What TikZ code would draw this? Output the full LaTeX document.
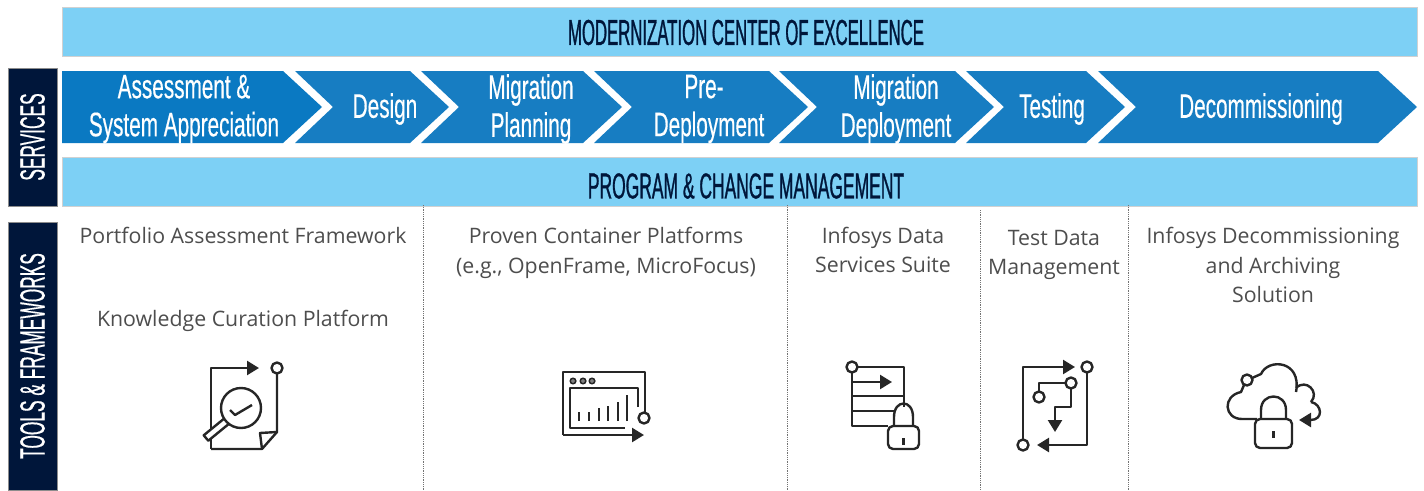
\documentclass[tikz,border=0pt]{standalone}
\usepackage{fontspec}
\usepackage{xcolor}
\usepackage{tikz}
\usetikzlibrary{arrows.meta}
\setmainfont{Open Sans}
\newfontfamily\condfont[FakeStretch=0.61,FakeBold=0.4]{Liberation Sans}
\newfontfamily\sidefont[FakeStretch=0.495,FakeBold=0.4]{Liberation Sans}
\newfontfamily\barfont[FakeStretch=0.465,FakeBold=0.8]{Liberation Sans}
\newfontfamily\changefont[FakeStretch=0.485,FakeBold=0.8]{Liberation Sans}
\definecolor{barblue}{HTML}{7DD0F5}
\definecolor{firstblue}{HTML}{0A79C2}
\definecolor{stepblue}{HTML}{177DC2}
\definecolor{navy}{HTML}{00163A}
\definecolor{bodygray}{HTML}{4D4D4D}
\tikzstyle{bar} = [fill=barblue, draw=black!18, line width=0.8pt, minimum width=1355pt, minimum height=49pt, inner sep=0pt]
\tikzstyle{bartext} = [text=navy, inner sep=0pt]
\tikzstyle{sidebox} = [fill=navy, draw=black!45, line width=0.8pt, inner sep=0pt, text=white, minimum width=49pt, font=\sidefont\fontsize{35}{40}\selectfont]
\tikzstyle{steptext} = [text=white, align=center, inner sep=0pt, font=\condfont\fontsize{34}{38}\selectfont]
\tikzstyle{bodytext} = [text=bodygray, align=center, inner sep=0pt, font=\fontsize{21.3}{29.5}\selectfont]
\tikzstyle{divider} = [densely dotted, black!55, line width=0.8pt]
\tikzstyle{icon} = [draw=black!85, line width=2.4pt, line join=round]
\tikzstyle{iconarrow} = [icon, -{Triangle[length=12pt,width=14pt]}]
\newcommand{\chevron}[3]{\fill[#3] (#1,71) -- (#2,71) -- ({#2+39},107) -- (#2,143) -- (#1,143) -- ({#1+38},107) -- cycle;}
\newcommand{\padlock}[4]{%
    \draw[icon, fill=white, rounded corners=5pt] (#1,#3) rectangle (#2,#4);
    \draw[icon] ({#1+6},#3) -- ({#1+6},{#3-9}) .. controls ({#1+6},{#3-27}) and ({#2-6},{#3-27}) .. ({#2-6},{#3-9}) -- ({#2-6},#3);
    \draw[icon] ({(#1+#2)/2},{#3+12}) -- ({(#1+#2)/2},{#3+19});
}

\begin{document}
\begin{tikzpicture}[x=1pt,y=-1pt]
\useasboundingbox (0,0) rectangle (1424,490);

\node [bar] (coe) at (739.5,31.5) {};
\node [bar] (program) at (739.5,181.5) {};
\node [bartext, font=\barfont\fontsize{36}{40}\selectfont] (coetext) at (746,32.5) {MODERNIZATION CENTER OF EXCELLENCE};
\node [bartext, font=\changefont\fontsize{36}{40}\selectfont] (programtext) at (746,186) {PROGRAM \& CHANGE MANAGEMENT};

\node [sidebox, minimum height=138pt] (services) at (32.5,137) {\rotatebox{90}{SERVICES}};
\node [sidebox, minimum height=268pt] (tools) at (32.5,356) {\rotatebox{90}{TOOLS \& FRAMEWORKS}};

% service steps
\fill[firstblue] (62,71) -- (283,71) -- (322,107) -- (283,143) -- (62,143) -- cycle;
\chevron{295}{410}{stepblue}
\chevron{421}{583}{stepblue}
\chevron{594}{769}{stepblue}
\chevron{779}{955}{stepblue}
\chevron{966}{1086}{stepblue}
\chevron{1098}{1378}{stepblue}

\node [steptext] (assessment) at (184,109) {Assessment \&\\System Appreciation};
\node [steptext] (design) at (385,109) {Design};
\node [steptext] (planning) at (531,109) {Migration\\Planning};
\node [steptext] (predeploy) at (709,109) {Pre-\hspace*{10pt}\\Deployment};
\node [steptext] (deploy) at (896,109) {Migration\\Deployment};
\node [steptext] (testing) at (1052,109) {Testing};
\node [steptext] (decom) at (1261,109) {Decommissioning};

% columns
\draw[divider] (423,205) -- (423,490);
\draw[divider] (787,205) -- (787,490);
\draw[divider] (980,210) -- (980,490);
\draw[divider] (1128,205) -- (1128,490);

\node [bodytext] (portfolio) at (243,235) {Portfolio Assessment Framework};
\node [bodytext] (knowledge) at (243,321) {Knowledge Curation Platform};
\node [bodytext] (container) at (606,253) {Proven Container Platforms\\(e.g., OpenFrame, MicroFocus)};
\node [bodytext] (datasuite) at (883,250) {Infosys Data\\Services Suite};
\node [bodytext] (testdata) at (1054,255) {Test Data\\Management};
\node [bodytext] (archive) at (1273,265) {Infosys Decommissioning\\and Archiving\\Solution};

% document and magnifier
\draw[iconarrow] (211,449) -- (211,368) -- (259,368);
\draw[icon] (277,368) circle (5.5);
\draw[icon] (277,374) -- (277,432) -- (262,449) -- (211,449);
\draw[icon] (277,432) -- (260,433) -- (262,449);
\draw[icon, fill=white] (230.3,422.7) -- (208.3,440.7) -- (203.7,435.3) -- (225.7,417.3) -- cycle;
\draw[icon, fill=white] (241,408) circle (20);
\draw[icon] (230,410) -- (235,415) -- (252,405);

% dashboard
\draw[icon] (645,412) -- (645,372) -- (563,372) -- (563,435);
\draw[iconarrow] (563,435) -- (644,435);
\draw[icon] (644,418) circle (5.5);
\draw[icon] (638,407) -- (638,388) -- (570,388) -- (570,428) -- (625,428);
\draw[icon, line width=1.5pt, fill=black!50] (573,381) circle (2.8) (583,381) circle (2.8) (592,381) circle (2.8);
\draw[icon] (579,421) -- (579,412) (589,421) -- (589,412) (599,421) -- (599,408)
    (608,421) -- (608,406) (618,421) -- (618,402) (627,421) -- (627,395);

% data table and lock
\draw[icon] (852,367) circle (5.5);
\draw[icon] (858,367) -- (904,367) -- (904,407);
\draw[icon] (852,373) -- (852,426) -- (888,426);
\draw[icon] (852,396) -- (904,396);
\draw[icon] (852,411) -- (895,411);
\draw[iconarrow] (852,382) -- (892,382);
\padlock{888}{919}{426}{449}

% test data flow
\draw[iconarrow] (1023,440) -- (1023,367) -- (1075,367);
\draw[icon] (1023,445) circle (5.5);
\draw[icon] (1087,367) circle (5.5);
\draw[iconarrow] (1087,373) -- (1087,445) -- (1037,445);
\draw[icon] (1071,383) circle (5.5);
\draw[icon] (1039,397) circle (5.5);
\draw[icon] (1065,383) -- (1039,383) -- (1039,391);
\draw[iconarrow] (1071,389) -- (1071,407) -- (1055,407) -- (1055,432);

% cloud and lock
\draw[icon] (1247,380) circle (5.5);
\draw[icon] (1257,419) -- (1242,419) .. controls (1224,419) and (1222,396) .. (1241,392) -- (1244,385);
\draw[icon] (1252,378) -- (1261,374) .. controls (1268,358) and (1302,360) .. (1296,392);
\draw[icon] (1296,388) .. controls (1306,378) and (1320,392) .. (1311,402);
\draw[iconarrow] (1311,402) .. controls (1322,404) and (1324,420) .. (1299,420);
\padlock{1255}{1292}{419}{448}
\end{tikzpicture}
\end{document}
